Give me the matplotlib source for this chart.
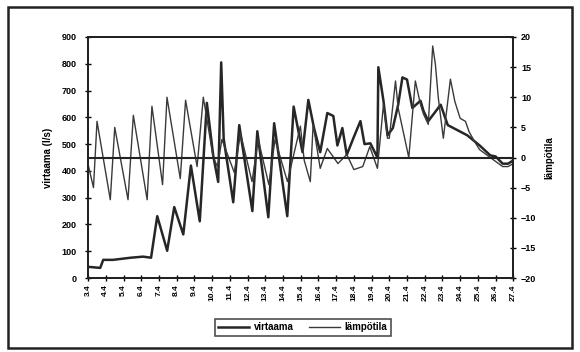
import matplotlib
matplotlib.use("Agg")
import matplotlib.pyplot as plt
from matplotlib.patches import Rectangle
from matplotlib.lines import Line2D

# dates on the x axis (day 0 = 3.4.)
dates = [f"{d}.4" for d in range(3, 28)]

# virtaama (l/s): time in days from 3.4., value
flow_t = [0.0, 0.68, 0.85, 1.4, 2.4, 3.1, 3.55, 3.9, 4.46, 4.86, 5.37, 5.8,
          6.3, 6.7, 7.06, 7.34, 7.51, 7.65, 8.19, 8.53, 9.27, 9.55, 10.17,
          10.5, 11.24, 11.6, 12.1, 12.43, 12.75, 13.1, 13.5, 13.84, 14.07,
          14.35, 14.6, 14.97, 15.37, 15.6, 15.93, 16.33, 16.38, 16.67, 16.9,
          17.2, 17.5, 17.74, 18.0, 18.3, 18.76, 18.93, 19.2, 19.9, 20.3, 21.4,
          22.1, 22.7, 23.0, 23.4, 23.7, 24.0]
flow_v = [42, 38, 68, 68, 76, 80, 76, 231, 102, 265, 163, 420,
          212, 654, 457, 359, 805, 520, 283, 571, 250, 548, 227,
          578, 231, 640, 470, 665, 560, 470, 616, 605, 495,
          560, 460, 522, 586, 500, 503, 450, 787, 662, 533,
          560, 647, 749, 741, 635, 662, 624, 586, 647, 571, 533,
          495, 458, 454, 427, 427, 439]

# lämpötila (°C)
temp_t = [0.0, 0.3, 0.5, 1.25, 1.5, 2.25, 2.55, 3.33, 3.6, 4.2, 4.45, 5.2, 5.5,
          6.15, 6.5, 7.06, 7.3, 7.55, 8.25, 8.6, 9.25, 9.6, 10.2, 10.55,
          11.25, 11.98, 12.2, 12.54, 12.7, 13.1, 13.5, 14.1, 14.6, 15.0, 15.5,
          15.9, 16.33, 16.67, 16.9, 17.0, 17.35, 17.5, 18.1, 18.47, 18.76,
          18.93, 19.2, 19.45, 19.6, 19.77, 20.05, 20.45, 20.7, 21.0, 21.3,
          21.5, 21.8, 22.1, 22.7, 23.4, 23.7, 24.0]
temp_v = [-1.2, -5, 6, -7, 5, -7, 7, -7, 8.5, -4.5, 10, -3.5, 9.5,
          -1.5, 10, 0, -1.5, 3, -2.5, 4, -4, 3, -4.5, 3,
          -4, 5.2, -0.5, -4, 5.5, -1.8, 1.5, -1, 0.5, -2, -1.5,
          1.8, -1.8, 8.8, 3.2, 3.2, 12.7, 8.2, 0, 12.7, 8.8,
          7.2, 5.5, 18.5, 15.5, 9.8, 3.2, 13, 9.3, 6.5, 6,
          4.3, 2.7, 1.3, 0, -1.5, -1.5, -1]

fig = plt.figure(figsize=(5.8, 3.52), dpi=100)
plt.rcParams["font.family"] = ["Liberation Sans", "DejaVu Sans"]

# frame round the whole figure
fig.patches.append(Rectangle((0.014, 0.012), 0.972, 0.968, transform=fig.transFigure,
                             fill=False, lw=1.8, ec="#222222"))

ax = fig.add_axes([0.152, 0.21, 0.733, 0.685])
ax2 = ax.twinx()

ax.plot(flow_t, flow_v, color="#262626", lw=1.8, solid_joinstyle="round")
ax2.plot(temp_t, temp_v, color="#3a3a3a", lw=1.0)
ax2.axhline(0, color="#222222", lw=1.5)

ax.set_xlim(0, 24)
ax.set_ylim(0, 900)
ax2.set_ylim(-20, 20)

ax.set_xticks(range(len(dates)))
ax.set_xticklabels(dates, rotation=90, fontsize=6, fontweight="bold")
ax.set_yticks(range(0, 901, 100))
ax2.set_yticks(range(-20, 21, 5))
ax.tick_params(axis="y", direction="inout", length=5, width=1, labelsize=6.5, pad=6)
ax.tick_params(axis="x", direction="inout", length=5, width=1, labelsize=6, pad=2)
ax2.tick_params(axis="y", direction="inout", length=5, width=1, labelsize=6.5, pad=3)
for a in (ax, ax2):
    for s in a.spines.values():
        s.set_linewidth(1.4)
        s.set_color("#222222")
for lbl in ax.get_yticklabels() + ax2.get_yticklabels():
    lbl.set_fontweight("bold")

ax.set_ylabel("virtaama (l/s)", fontsize=7, fontweight="bold", labelpad=6)
ax2.set_ylabel("lämpötila", fontsize=7, fontweight="bold", rotation=90, labelpad=6)

handles = [Line2D([], [], color="#262626", lw=1.8),
           Line2D([], [], color="#3a3a3a", lw=1.0)]
leg = fig.legend(handles, ["virtaama", "lämpötila"], loc="center",
                 bbox_to_anchor=(0.522, 0.07), ncol=2, fontsize=7,
                 frameon=True, fancybox=False, handlelength=3.2, columnspacing=1.5,
                 borderpad=0.35, handletextpad=0.5)
leg.get_frame().set_edgecolor("#222222")
leg.get_frame().set_linewidth(1.2)
for t in leg.get_texts():
    t.set_fontweight("bold")

fig.savefig("out.png", dpi=100)
